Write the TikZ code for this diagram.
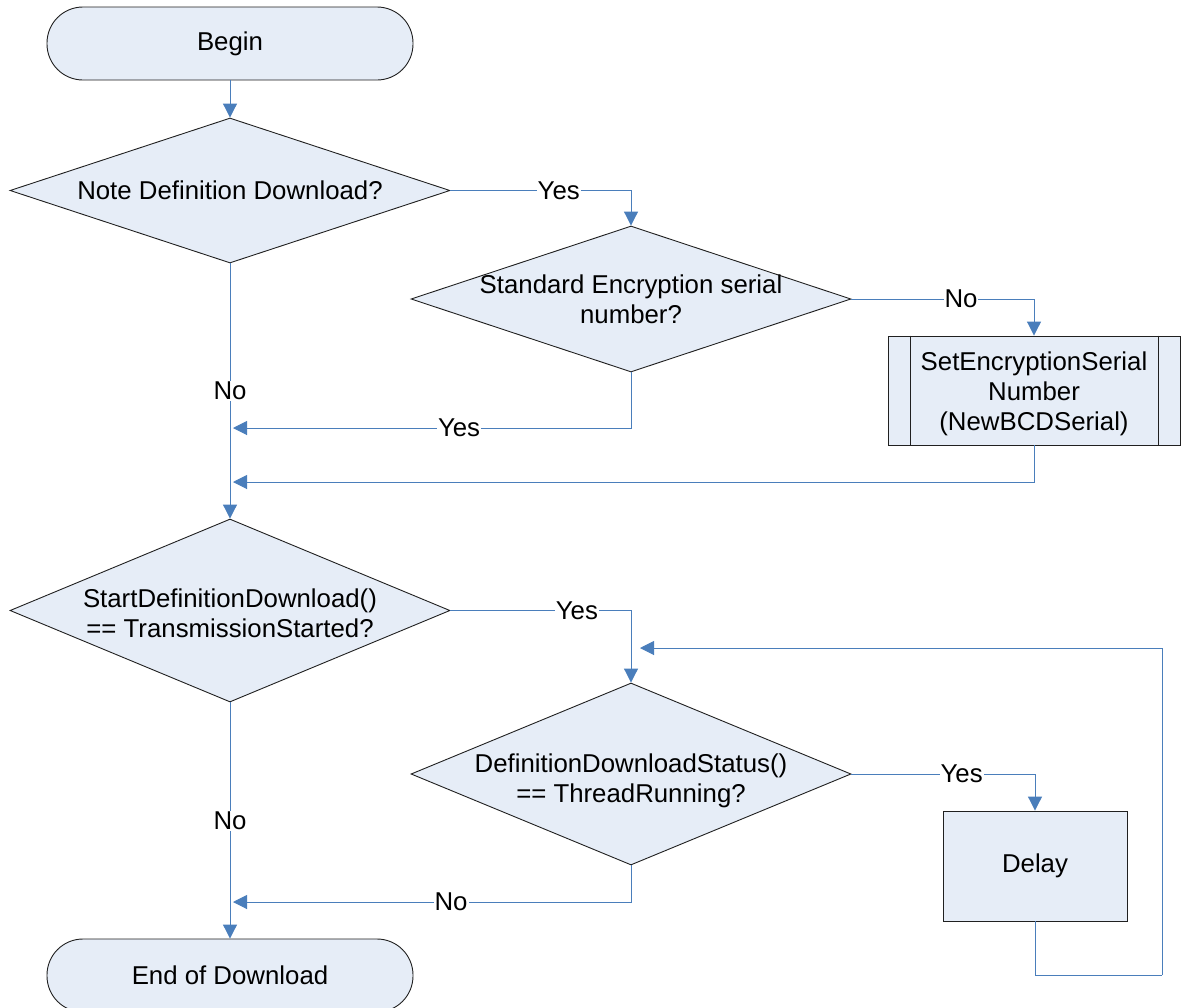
\documentclass[tikz,border=0pt]{standalone}
\usepackage{fontspec}
\setmainfont{Liberation Sans}
\usetikzlibrary{shapes.geometric,arrows.meta}
\definecolor{fillblue}{HTML}{E6EDF7}
\definecolor{lineblue}{HTML}{4A7EBB}
\definecolor{edgegray}{HTML}{202020}
\tikzset{
  x=1pt,y=-1pt,
  every node/.style={font=\fontsize{25.8}{30}\selectfont},
  terminal/.style={draw=edgegray,fill=fillblue,line width=0.9pt,rectangle,rounded corners=36pt,minimum width=366,minimum height=73,inner sep=0},
  decision/.style={draw=edgegray,fill=fillblue,line width=0.9pt,diamond,minimum width=440,minimum height=#1,inner sep=0},
  dtext/.style={align=center,inner sep=0},
  procbox/.style={draw=edgegray,fill=fillblue,line width=0.9pt,rectangle,inner sep=0,align=center},
  flow/.style={draw=lineblue,line width=1pt,-{Triangle[length=14pt,width=14pt]}},
  plain/.style={draw=lineblue,line width=1pt},
  lab/.style={fill=white,inner sep=1pt}
}
\begin{document}
\begin{tikzpicture}
\useasboundingbox (0,0) rectangle (1181,1007);
\clip (0,0) rectangle (1181,1007);
% nodes
\node[terminal] (begin) at (230,43.5) {Begin};
\node[decision=145] (d1) at (230,190.5) {};
\node[dtext] (t1) at (d1) {Note Definition Download?};
\node[decision=146] (d2) at (631,299) {};
\node[dtext] (t2) at (d2) {Standard Encryption serial\\number?};
\node[procbox,minimum width=292,minimum height=109] (p1) at (1034,390.5) {};
\node[dtext] (pt1) at ([yshift=-3]p1) {SetEncryptionSerial\\Number\\(NewBCDSerial)};
\draw[edgegray,line width=0.9pt] ([xshift=23]p1.north west) -- ([xshift=23]p1.south west);
\draw[edgegray,line width=0.9pt] ([xshift=-22]p1.north east) -- ([xshift=-22]p1.south east);
\node[decision=183] (d3) at (230,610.5) {};
\node[dtext] (t3) at ([yshift=-2.5]d3) {StartDefinitionDownload()\\== TransmissionStarted?};
\node[decision=182] (d4) at (631,774) {};
\node[dtext] (t4) at ([yshift=-7]d4) {DefinitionDownloadStatus()\\== ThreadRunning?};
\node[procbox,minimum width=184,minimum height=110] (delay) at (1035,866) {Delay};
\node[terminal] (end) at (230,975.5) {End of Download};
% coordinates on the trunk
\coordinate (m1) at (233,428);
\coordinate (m2) at (233,482);
\coordinate (m3) at (233,902);
\coordinate (lp) at (640,648);
\coordinate (lc) at (1162,975);
% connectors
\draw[flow] (begin.south) -- (d1.north);
\draw[flow] (d1.east) -| node[lab,pos=0.30] {Yes} (d2.north);
\draw[flow] (d2.east) -| node[lab,pos=0.30] {No} (p1.north);
\draw[flow] (d2.south) |- node[lab,pos=0.716] {Yes} (m1);
\draw[flow] (p1.south) |- (m2);
\draw[flow] (d1.south) -- node[lab] {No} (d3.north);
\draw[flow] (d3.east) -| node[lab,pos=0.35] {Yes} (d4.north);
\draw[flow] (d4.east) -| node[lab,pos=0.30] {Yes} (delay.north);
\draw[plain] (delay.south) |- (lc);
\draw[flow] (lc) |- (lp);
\draw[flow] (d4.south) |- node[lab,pos=0.726] {No} (m3);
\draw[flow] (d3.south) -- node[lab] {No} (end.north);
\end{tikzpicture}
\end{document}
